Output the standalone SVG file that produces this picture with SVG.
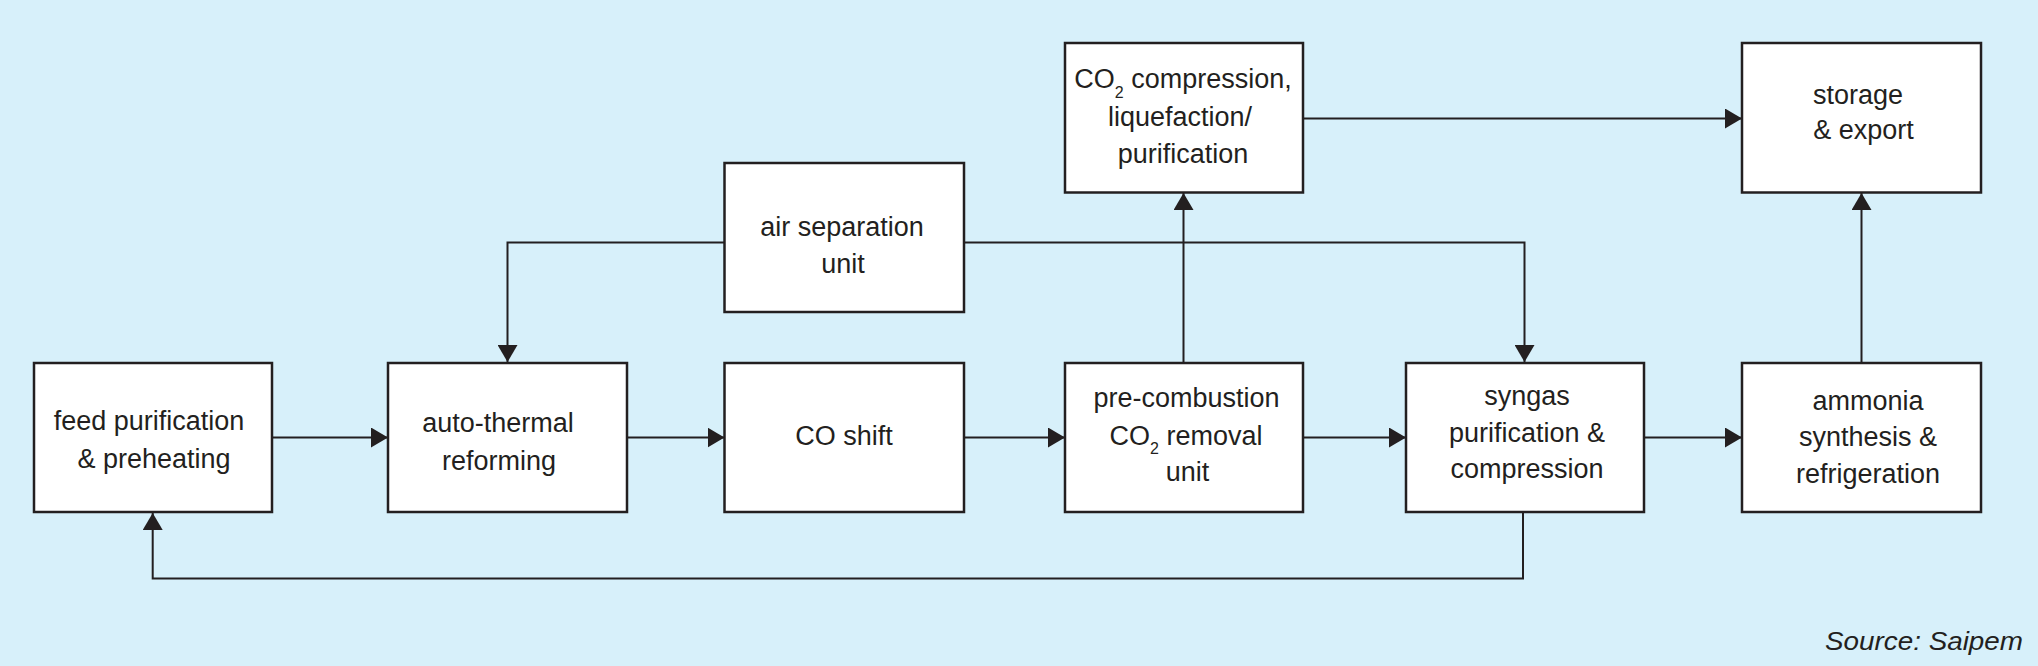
<svg xmlns="http://www.w3.org/2000/svg" width="2038" height="666" viewBox="0 0 2038 666">
<defs>
<style>
.box{fill:#ffffff;stroke:#231f20;stroke-width:2.5}
.lbl{font-family:"Liberation Sans",Arial,sans-serif;font-size:27px;fill:#231f20;text-anchor:middle}
.sub{font-size:16px}
.con{fill:none;stroke:#231f20;stroke-width:2}
.src{font-family:"Liberation Sans",Arial,sans-serif;font-size:25px;font-style:italic;fill:#231f20;text-anchor:end}
</style>
<marker id="arr" markerUnits="userSpaceOnUse" markerWidth="17" markerHeight="20" refX="17" refY="10" orient="auto" viewBox="0 0 17 20">
<path d="M0,0 L17,10 L0,20 z" fill="#231f20"/>
</marker>
</defs>
<rect x="0" y="0" width="2038" height="666" fill="#d7f0fa"/>
<g id="connectors">
<line class="con" x1="272" y1="437.5" x2="388" y2="437.5" marker-end="url(#arr)"/>
<line class="con" x1="627" y1="437.5" x2="724.5" y2="437.5" marker-end="url(#arr)"/>
<line class="con" x1="964" y1="437.5" x2="1065" y2="437.5" marker-end="url(#arr)"/>
<line class="con" x1="1303" y1="437.5" x2="1406" y2="437.5" marker-end="url(#arr)"/>
<line class="con" x1="1644" y1="437.5" x2="1742" y2="437.5" marker-end="url(#arr)"/>
<polyline class="con" points="724.5,242.5 507.5,242.5 507.5,362" marker-end="url(#arr)"/>
<polyline class="con" points="964,242.5 1524.5,242.5 1524.5,362" marker-end="url(#arr)"/>
<line class="con" x1="1183.5" y1="363" x2="1183.5" y2="193" marker-end="url(#arr)"/>
<line class="con" x1="1303" y1="118.5" x2="1742" y2="118.5" marker-end="url(#arr)"/>
<line class="con" x1="1861.5" y1="363" x2="1861.5" y2="193" marker-end="url(#arr)"/>
<polyline class="con" points="1523,512 1523,578.5 152.7,578.5 152.7,513" marker-end="url(#arr)"/>
</g>
<g id="feed">
<rect class="box" x="34" y="363" width="238" height="149"/>
<text class="lbl" x="149" y="430">feed purification</text>
<text class="lbl" x="154" y="468">&amp; preheating</text>
</g>
<g id="atr">
<rect class="box" x="388" y="363" width="239" height="149"/>
<text class="lbl" x="498" y="432">auto-thermal</text>
<text class="lbl" x="499" y="470">reforming</text>
</g>
<g id="coshift">
<rect class="box" x="724.5" y="363" width="239.5" height="149"/>
<text class="lbl" x="844" y="445">CO shift</text>
</g>
<g id="precomb">
<rect class="box" x="1065" y="363" width="238" height="149"/>
<text class="lbl" x="1186.5" y="407">pre-combustion</text>
<text class="lbl" x="1186" y="445">CO<tspan class="sub" dy="9">2</tspan><tspan dy="-9"> removal</tspan></text>
<text class="lbl" x="1187.5" y="481">unit</text>
</g>
<g id="syngas">
<rect class="box" x="1406" y="363" width="238" height="149"/>
<text class="lbl" x="1527" y="405">syngas</text>
<text class="lbl" x="1527" y="442">purification &amp;</text>
<text class="lbl" x="1527" y="478">compression</text>
</g>
<g id="ammonia">
<rect class="box" x="1742" y="363" width="239" height="149"/>
<text class="lbl" x="1868" y="410">ammonia</text>
<text class="lbl" x="1868" y="446">synthesis &amp;</text>
<text class="lbl" x="1868" y="483">refrigeration</text>
</g>
<g id="airsep">
<rect class="box" x="724.5" y="163" width="239.5" height="149"/>
<text class="lbl" x="842" y="236">air separation</text>
<text class="lbl" x="843" y="273">unit</text>
</g>
<g id="co2comp">
<rect class="box" x="1065" y="43" width="238" height="149.5"/>
<text class="lbl" x="1183" y="88">CO<tspan class="sub" dy="10">2</tspan><tspan dy="-10"> compression,</tspan></text>
<text class="lbl" x="1180" y="126">liquefaction/</text>
<text class="lbl" x="1183" y="163">purification</text>
</g>
<g id="storage">
<rect class="box" x="1742" y="43" width="239" height="149.5"/>
<text class="lbl" x="1858" y="104">storage</text>
<text class="lbl" x="1863.5" y="139">&amp; export</text>
</g>
<text class="src" x="2023" y="650" textLength="198" lengthAdjust="spacingAndGlyphs">Source: Saipem</text>
</svg>
